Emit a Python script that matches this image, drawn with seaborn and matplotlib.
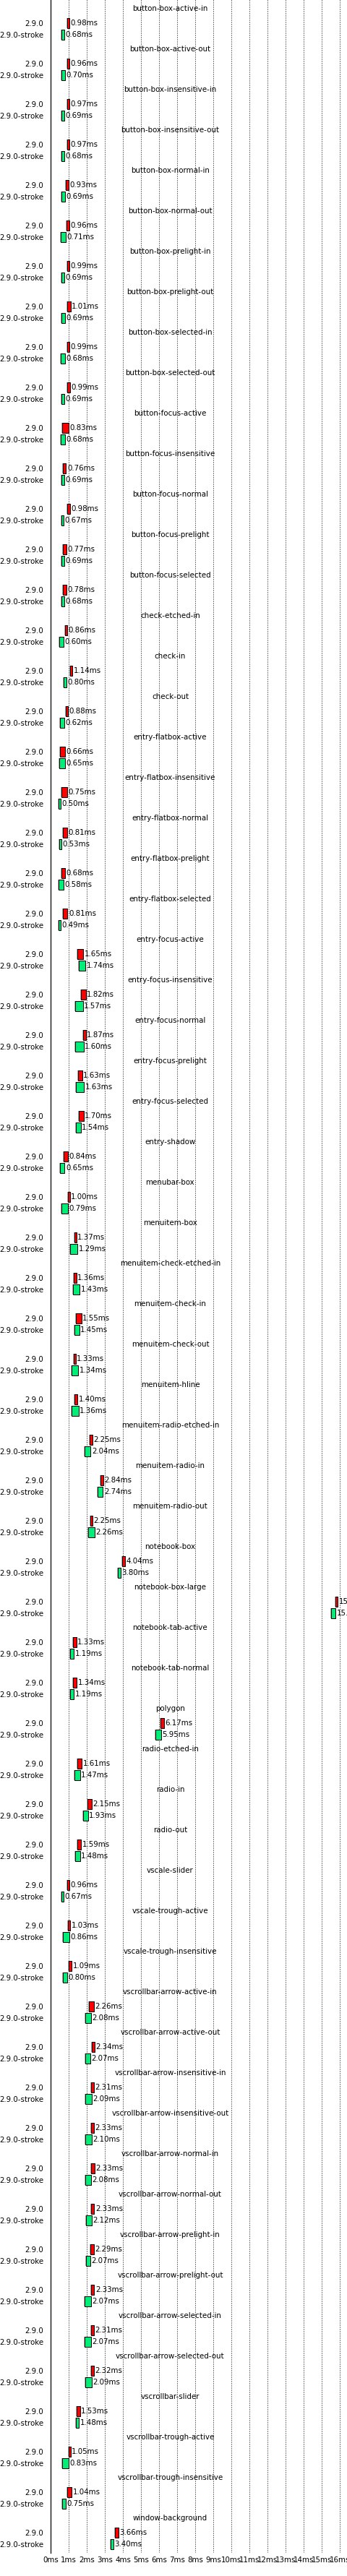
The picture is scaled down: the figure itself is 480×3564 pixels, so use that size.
import matplotlib

matplotlib.use("Agg")  # Non-interactive backend
import matplotlib.pyplot as plt
import matplotlib.transforms as mtransforms
import numpy as np
import pandas as pd
import seaborn as sns

# Test cases, top to bottom
tests = [
    "button-box-active-in", "button-box-active-out",
    "button-box-insensitive-in", "button-box-insensitive-out",
    "button-box-normal-in", "button-box-normal-out",
    "button-box-prelight-in", "button-box-prelight-out",
    "button-box-selected-in", "button-box-selected-out",
    "button-focus-active", "button-focus-insensitive", "button-focus-normal",
    "button-focus-prelight", "button-focus-selected",
    "check-etched-in", "check-in", "check-out",
    "entry-flatbox-active", "entry-flatbox-insensitive", "entry-flatbox-normal",
    "entry-flatbox-prelight", "entry-flatbox-selected",
    "entry-focus-active", "entry-focus-insensitive", "entry-focus-normal",
    "entry-focus-prelight", "entry-focus-selected",
    "entry-shadow", "menubar-box", "menuitem-box",
    "menuitem-check-etched-in", "menuitem-check-in", "menuitem-check-out",
    "menuitem-hline", "menuitem-radio-etched-in", "menuitem-radio-in",
    "menuitem-radio-out", "notebook-box", "notebook-box-large",
    "notebook-tab-active", "notebook-tab-normal", "polygon",
    "radio-etched-in", "radio-in", "radio-out",
    "vscale-slider", "vscale-trough-active", "vscale-trough-insensitive",
    "vscrollbar-arrow-active-in", "vscrollbar-arrow-active-out",
    "vscrollbar-arrow-insensitive-in", "vscrollbar-arrow-insensitive-out",
    "vscrollbar-arrow-normal-in", "vscrollbar-arrow-normal-out",
    "vscrollbar-arrow-prelight-in", "vscrollbar-arrow-prelight-out",
    "vscrollbar-arrow-selected-in", "vscrollbar-arrow-selected-out",
    "vscrollbar-slider", "vscrollbar-trough-active",
    "vscrollbar-trough-insensitive", "window-background",
]

versions = ["2.9.0", "2.9.0-stroke"]

# median times in ms
time_base = [
    0.98, 0.96, 0.97, 0.97, 0.93, 0.96, 0.99, 1.01, 0.99, 0.99,
    0.83, 0.76, 0.98, 0.77, 0.78, 0.86, 1.14, 0.88, 0.66, 0.75,
    0.81, 0.68, 0.81, 1.65, 1.82, 1.87, 1.63, 1.70, 0.84, 1.00,
    1.37, 1.36, 1.55, 1.33, 1.40, 2.25, 2.84, 2.25, 4.04, 15.82,
    1.33, 1.34, 6.17, 1.61, 2.15, 1.59, 0.96, 1.03, 1.09, 2.26,
    2.34, 2.31, 2.33, 2.33, 2.33, 2.29, 2.33, 2.31, 2.32, 1.53,
    1.05, 1.04, 3.66,
]
time_stroke = [
    0.68, 0.70, 0.69, 0.68, 0.69, 0.71, 0.69, 0.69, 0.68, 0.69,
    0.68, 0.69, 0.67, 0.69, 0.68, 0.60, 0.80, 0.62, 0.65, 0.50,
    0.53, 0.58, 0.49, 1.74, 1.57, 1.60, 1.63, 1.54, 0.65, 0.79,
    1.29, 1.43, 1.45, 1.34, 1.36, 2.04, 2.74, 2.26, 3.80, 15.64,
    1.19, 1.19, 5.95, 1.47, 1.93, 1.48, 0.67, 0.86, 0.80, 2.08,
    2.07, 2.09, 2.10, 2.08, 2.12, 2.07, 2.07, 2.07, 2.09, 1.48,
    0.83, 0.75, 3.40,
]

# spread of the samples (box width) in ms
spread_base = [
    0.12, 0.12, 0.10, 0.10, 0.16, 0.18, 0.12, 0.20, 0.12, 0.14,
    0.35, 0.19, 0.16, 0.21, 0.21, 0.09, 0.12, 0.12, 0.29, 0.31,
    0.23, 0.20, 0.25, 0.31, 0.27, 0.15, 0.23, 0.25, 0.24, 0.12,
    0.13, 0.13, 0.33, 0.13, 0.17, 0.16, 0.16, 0.13, 0.15, 0.12,
    0.19, 0.20, 0.20, 0.23, 0.24, 0.19, 0.12, 0.13, 0.15, 0.27,
    0.16, 0.16, 0.16, 0.19, 0.17, 0.21, 0.17, 0.17, 0.16, 0.21,
    0.13, 0.24, 0.19,
]
spread_stroke = [
    0.16, 0.19, 0.16, 0.16, 0.20, 0.28, 0.16, 0.20, 0.24, 0.16,
    0.24, 0.16, 0.13, 0.16, 0.16, 0.21, 0.19, 0.24, 0.33, 0.15,
    0.13, 0.31, 0.12, 0.39, 0.43, 0.47, 0.43, 0.27, 0.25, 0.35,
    0.39, 0.37, 0.27, 0.39, 0.39, 0.35, 0.31, 0.36, 0.16, 0.24,
    0.19, 0.19, 0.32, 0.33, 0.28, 0.28, 0.13, 0.39, 0.21, 0.29,
    0.28, 0.36, 0.35, 0.33, 0.32, 0.25, 0.35, 0.35, 0.35, 0.16,
    0.35, 0.19, 0.16,
]

tick_ms = list(range(0, 17))

palette = {"2.9.0": "#ff0000", "2.9.0-stroke": "#00ee77"}

df = pd.concat(
    [
        pd.DataFrame({"test": tests, "version": versions[0],
                      "time": time_base, "spread": spread_base}),
        pd.DataFrame({"test": tests, "version": versions[1],
                      "time": time_stroke, "spread": spread_stroke}),
    ],
    ignore_index=True,
)

sns.set_style("white")
plt.rcParams["font.family"] = ["DejaVu Sans"]
plt.rcParams["text.color"] = "black"
plt.rcParams["xtick.color"] = "black"
plt.rcParams["ytick.color"] = "black"
FS = 7.35

W, H = 480, 3564
fig = plt.figure(figsize=(W / 100, H / 100), dpi=100)
ax = fig.add_axes([70 / W, 32 / H, 410 / W, 3532 / H])

n = len(tests)
row = 56.0                 # pixels per test block
off = 8 / row              # bar offset from block centre
bar_h = 14 / row
shadow = 0.04              # ms, grey shadow on the left of each box

ytick_pos, ytick_lab = [], []
for k, version in enumerate(versions):
    sub = df[df["version"] == version].reset_index(drop=True)
    y = np.arange(n) + (2 * k - 1) * off
    left = sub["time"] - sub["spread"] / 2
    ax.barh(y, sub["spread"], left=left - shadow, height=bar_h,
            color="#aaaaaa", linewidth=0, zorder=2)
    ax.barh(y, sub["spread"], left=left, height=bar_h,
            color=palette[version], edgecolor="black", linewidth=0.72, zorder=3)
    for yy, t, s in zip(y, sub["time"], sub["spread"]):
        ax.text(t + s / 2 + 0.06, yy, f"{t:.2f}ms", va="center", ha="left",
                fontsize=FS, zorder=4, clip_on=False)
    ytick_pos.extend(y)
    ytick_lab.extend([version] * n)

# test names centred above each pair
title_tf = mtransforms.blended_transform_factory(fig.transFigure, ax.transData)
for i, name in enumerate(tests):
    ax.text(235.5 / W, i - 0.5, name, transform=title_tf, ha="center",
            va="center", fontsize=FS, zorder=4)

ax.set_ylim((3532 - 40) / row, -40 / row)
ax.set_xlim(0, 16.4)
ax.set_xticks(tick_ms, [f"{t}ms" for t in tick_ms])
ax.set_yticks(ytick_pos, ytick_lab)
ax.tick_params(axis="y", length=0, pad=7.2, labelsize=FS)
ax.tick_params(axis="x", length=0, pad=3.6, labelsize=FS)

ax.xaxis.grid(True, linestyle=(0, (1, 2)), color="black", linewidth=0.72)
ax.yaxis.grid(False)
ax.set_axisbelow(True)

sns.despine(ax=ax, top=True, right=True, bottom=True, left=False)
ax.spines["left"].set_color("black")
ax.spines["left"].set_linewidth(0.9)
ax.set_facecolor("white")

fig.savefig("out.png", dpi=100, facecolor="white")
